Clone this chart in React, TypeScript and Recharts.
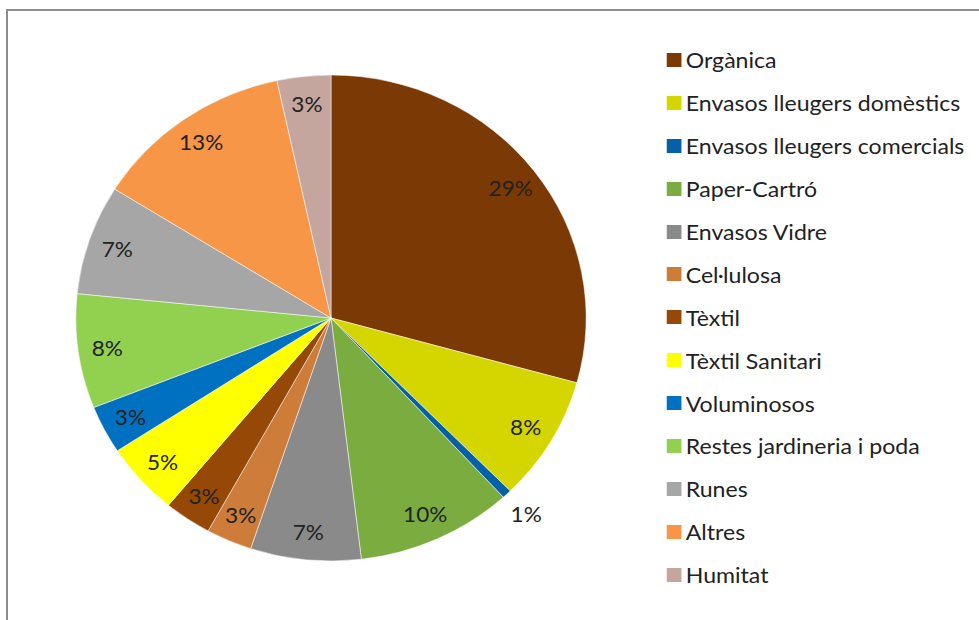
import { PieChart, Pie, Cell, Legend } from "recharts";

const CATEGORIES = [
  "Orgànica",
  "Envasos lleugers domèstics",
  "Envasos lleugers comercials",
  "Paper-Cartró",
  "Envasos Vidre",
  "Cel·lulosa",
  "Tèxtil",
  "Tèxtil Sanitari",
  "Voluminosos",
  "Restes jardineria i poda",
  "Runes",
  "Altres",
  "Humitat",
];

// share of each fraction (%)
const SHARES = [29.3, 8.3, 0.6, 9.9, 7.0, 2.9, 3.0, 4.8, 3.2, 7.6, 7.3, 12.7, 3.4];

const COLORS = [
  "#7B3905",
  "#D5D500",
  "#0461A8",
  "#7BAC3F",
  "#8A8A8A",
  "#CD7C3A",
  "#964806",
  "#FFFF00",
  "#0070C0",
  "#92D050",
  "#A6A6A6",
  "#F79646",
  "#C4A69E",
];

const data = CATEGORIES.map((name, i) => ({ name, value: SHARES[i] }));

// the reference picture is stretched a little horizontally
const STRETCH = 1.05;
const FONT = "Lato, 'Open Sans', sans-serif";
const TEXT = "#222222";

const RADIAN = Math.PI / 180;

const renderLabel = (props: any) => {
  const { cx, cy, midAngle, outerRadius, percent } = props;
  const r = percent < 0.01 ? outerRadius * 1.11 : outerRadius * 0.885;
  const x = cx + r * Math.cos(-midAngle * RADIAN);
  const y = cy + r * Math.sin(-midAngle * RADIAN);
  return (
    <text
      x={x}
      y={y}
      textAnchor="middle"
      dominantBaseline="central"
      fill={TEXT}
      fontSize={21.5}
      fontFamily={FONT}
    >
      {Math.round(percent * 100)}%
    </text>
  );
};

const renderLegend = () => (
  <div style={{ fontFamily: FONT, fontSize: 22, color: TEXT }}>
    {CATEGORIES.map((name, i) => (
      <div
        key={name}
        style={{ display: "flex", alignItems: "center", height: 42.9, whiteSpace: "nowrap" }}
      >
        <span
          style={{
            display: "inline-block",
            width: 14 / STRETCH,
            height: 14,
            background: COLORS[i],
            marginRight: 4.5,
          }}
        />
        <span>{name}</span>
      </div>
    ))}
  </div>
);

export default function App() {
  return (
    <div
      style={{
        position: "absolute",
        left: 0,
        top: 0,
        width: 979,
        height: 620,
        overflow: "hidden",
        background: "#fff",
      }}
    >
      <div
        style={{
          position: "absolute",
          left: 6,
          top: 9,
          width: 1200,
          height: 1000,
          border: "2px solid #8C8C8C",
        }}
      />
      <div
        style={{
          position: "absolute",
          left: 0,
          top: 0,
          transform: `scaleX(${STRETCH})`,
          transformOrigin: "0 0",
        }}
      >
        <PieChart
          width={930}
          height={620}
          margin={{ top: 0, right: 0, bottom: 0, left: 0 }}
        >
          <Pie
            data={data}
            dataKey="value"
            nameKey="name"
            cx={331 / STRETCH}
            cy={318}
            outerRadius={243}
            startAngle={90}
            endAngle={-270}
            stroke="#ffffff"
            strokeWidth={0.5}
            label={renderLabel}
            labelLine={false}
            isAnimationActive={false}
          >
            {data.map((d, i) => (
              <Cell key={d.name} fill={COLORS[i]} />
            ))}
          </Pie>
          <Legend
            layout="vertical"
            align="right"
            verticalAlign="top"
            content={renderLegend}
            wrapperStyle={{ left: 667 / STRETCH, top: 38.5, width: 320 }}
          />
        </PieChart>
      </div>
    </div>
  );
}
